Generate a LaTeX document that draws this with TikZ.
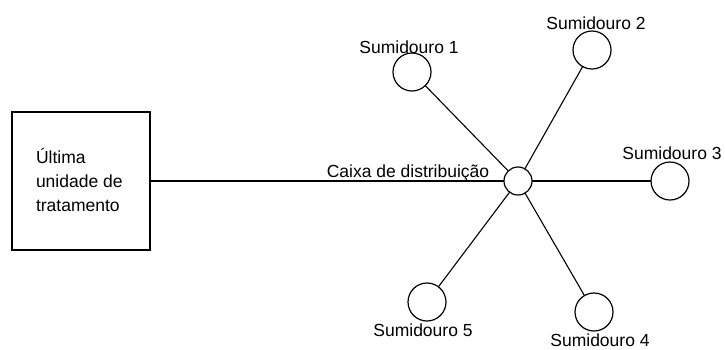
\documentclass[tikz,border=0pt]{standalone}
\usepackage{fontspec}
\setmainfont{Liberation Sans}
\begin{document}
\begin{tikzpicture}[x=1pt,y=-1pt,
  every node/.style={inner sep=0pt,outer sep=0pt},
  lbl/.style={font=\fontsize{17.5}{24}\selectfont},
  sink/.style={draw,circle,line width=1.2pt,minimum size=38pt},
  conn/.style={line width=1.1pt}]
\useasboundingbox (0,0) rectangle (725,349);
\node[draw,line width=1.1pt,minimum width=138pt,minimum height=138pt] (box) at (81,181) {};
\node[lbl,align=left,anchor=west] (boxtxt) at (36,180) {Última\\unidade de\\tratamento};
\node[draw,circle,line width=1.2pt,minimum size=28pt] (c) at (518,181) {};
\node[sink] (s1) at (412,72) {};
\node[sink] (s2) at (592,50) {};
\node[sink] (s3) at (670,181) {};
\node[sink] (s4) at (594,312) {};
\node[sink] (s5) at (427,302) {};
\node[lbl] (l1) at (409,47) {Sumidouro 1};
\node[lbl] (l2) at (596,23) {Sumidouro 2};
\node[lbl] (l3) at (672,153) {Sumidouro 3};
\node[lbl] (l4) at (600,340) {Sumidouro 4};
\node[lbl] (l5) at (423,330) {Sumidouro 5};
\node[lbl] (lc) at (408,173) {Caixa de distribuição};
\draw[conn] (box) -- (c);
\draw[conn] (c) -- (s1);
\draw[conn] (c) -- (s2);
\draw[conn] (c) -- (s3);
\draw[conn] (c) -- (s4);
\draw[conn] (c) -- (s5);
\end{tikzpicture}
\end{document}
